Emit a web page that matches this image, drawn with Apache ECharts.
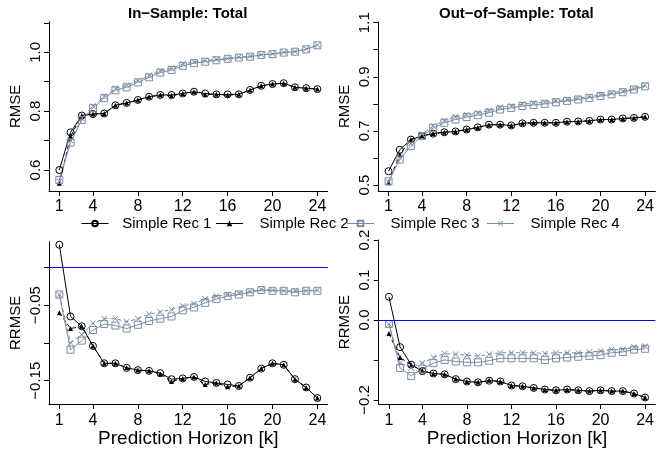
<!DOCTYPE html>
<html>
<head>
<meta charset="utf-8">
<script src="https://cdn.jsdelivr.net/npm/echarts@6/dist/echarts.min.js"></script>
<style>
  html, body { margin: 0; padding: 0; background: #ffffff; }
  #chart { width: 657px; height: 449px; }
</style>
</head>
<body>
<div id="chart"></div>
<script>
// Prediction horizons k = 1..24
const horizons = [1, 2, 3, 4, 5, 6, 7, 8, 9, 10, 11, 12, 13, 14, 15, 16, 17, 18, 19, 20, 21, 22, 23, 24];
const seriesNames = ['Simple Rec 1', 'Simple Rec 2', 'Simple Rec 3', 'Simple Rec 4'];
const panelTitles = ['In\u2212Sample: Total', 'Out\u2212of\u2212Sample: Total'];
const xTickValues = [1, 4, 8, 12, 16, 20, 24];

// In-sample RMSE
const inRmseRec1 = [0.600, 0.728, 0.785, 0.790, 0.792, 0.820, 0.828, 0.838, 0.849, 0.855, 0.855, 0.860, 0.866, 0.860, 0.857, 0.857, 0.857, 0.872, 0.886, 0.892, 0.895, 0.881, 0.878, 0.875];
const inRmseRec2 = [0.555, 0.715, 0.785, 0.790, 0.792, 0.820, 0.828, 0.838, 0.849, 0.855, 0.852, 0.860, 0.866, 0.856, 0.857, 0.854, 0.857, 0.872, 0.886, 0.892, 0.895, 0.881, 0.878, 0.875];
const inRmseRec3 = [0.566, 0.693, 0.770, 0.810, 0.844, 0.871, 0.881, 0.898, 0.915, 0.931, 0.940, 0.954, 0.963, 0.968, 0.973, 0.978, 0.982, 0.985, 0.991, 0.994, 0.999, 1.002, 1.010, 1.024];
const inRmseRec4 = [0.562, 0.700, 0.776, 0.817, 0.851, 0.877, 0.888, 0.904, 0.921, 0.937, 0.946, 0.960, 0.968, 0.972, 0.976, 0.980, 0.984, 0.987, 0.992, 0.995, 1.000, 1.003, 1.011, 1.025];

// Out-of-sample RMSE
const outRmseRec1 = [0.551, 0.630, 0.668, 0.681, 0.690, 0.695, 0.698, 0.705, 0.713, 0.723, 0.723, 0.720, 0.728, 0.730, 0.730, 0.730, 0.734, 0.735, 0.737, 0.742, 0.742, 0.746, 0.748, 0.752];
const outRmseRec2 = [0.508, 0.612, 0.668, 0.682, 0.690, 0.695, 0.698, 0.705, 0.713, 0.722, 0.723, 0.720, 0.728, 0.730, 0.730, 0.730, 0.734, 0.735, 0.737, 0.742, 0.742, 0.746, 0.748, 0.752];
const outRmseRec3 = [0.514, 0.594, 0.644, 0.681, 0.711, 0.730, 0.742, 0.751, 0.758, 0.767, 0.779, 0.785, 0.792, 0.796, 0.800, 0.806, 0.811, 0.816, 0.822, 0.829, 0.835, 0.843, 0.853, 0.865];
const outRmseRec4 = [0.511, 0.600, 0.654, 0.688, 0.718, 0.738, 0.751, 0.760, 0.766, 0.775, 0.787, 0.792, 0.799, 0.803, 0.806, 0.811, 0.816, 0.821, 0.827, 0.834, 0.840, 0.847, 0.857, 0.868];

// In-sample relative RMSE
const inRrmseRec1 = [0.030, -0.065, -0.078, -0.104, -0.127, -0.127, -0.133, -0.136, -0.137, -0.140, -0.148, -0.147, -0.145, -0.151, -0.153, -0.155, -0.157, -0.146, -0.134, -0.127, -0.129, -0.148, -0.159, -0.173];
const inRrmseRec2 = [-0.060, -0.081, -0.078, -0.104, -0.127, -0.127, -0.133, -0.136, -0.137, -0.141, -0.151, -0.147, -0.145, -0.155, -0.153, -0.158, -0.157, -0.146, -0.134, -0.127, -0.129, -0.148, -0.159, -0.173];
const inRrmseRec3 = [-0.036, -0.109, -0.097, -0.083, -0.075, -0.077, -0.081, -0.076, -0.071, -0.068, -0.065, -0.057, -0.053, -0.047, -0.042, -0.038, -0.036, -0.033, -0.030, -0.031, -0.031, -0.033, -0.031, -0.031];
const inRrmseRec4 = [-0.036, -0.100, -0.089, -0.074, -0.068, -0.068, -0.072, -0.068, -0.062, -0.059, -0.056, -0.051, -0.048, -0.042, -0.038, -0.036, -0.034, -0.032, -0.029, -0.030, -0.031, -0.031, -0.031, -0.030];

// Out-of-sample relative RMSE
const outRrmseRec1 = [0.058, -0.068, -0.112, -0.128, -0.134, -0.136, -0.148, -0.154, -0.156, -0.152, -0.154, -0.164, -0.166, -0.170, -0.174, -0.176, -0.174, -0.176, -0.178, -0.176, -0.178, -0.178, -0.184, -0.194];
const outRrmseRec2 = [-0.034, -0.094, -0.112, -0.127, -0.134, -0.136, -0.148, -0.154, -0.156, -0.151, -0.154, -0.164, -0.166, -0.170, -0.174, -0.176, -0.174, -0.176, -0.178, -0.176, -0.178, -0.178, -0.184, -0.194];
const outRrmseRec3 = [-0.010, -0.120, -0.140, -0.122, -0.108, -0.100, -0.104, -0.106, -0.106, -0.102, -0.096, -0.096, -0.096, -0.096, -0.100, -0.096, -0.094, -0.092, -0.090, -0.088, -0.082, -0.080, -0.074, -0.072];
const outRrmseRec4 = [-0.010, -0.108, -0.120, -0.108, -0.094, -0.084, -0.086, -0.088, -0.090, -0.086, -0.082, -0.082, -0.082, -0.082, -0.084, -0.082, -0.082, -0.082, -0.080, -0.078, -0.074, -0.074, -0.068, -0.066];

// Y-axis ticks and the ticks that carry a label, per panel
const yTicksInRmse = [0.6, 0.7, 0.8, 0.9, 1.0, 1.1];
const yLabelsInRmse = [0.6, 0.8, 1.0];
const yTicksOutRmse = [0.5, 0.6, 0.7, 0.8, 0.9, 1.0, 1.1];
const yLabelsOutRmse = [0.5, 0.7, 0.9, 1.1];
const yTicksInRrmse = [-0.15, -0.10, -0.05, 0.00];
const yLabelsInRrmse = [-0.15, -0.05];
const yTicksOutRrmse = [-0.2, -0.1, 0.0, 0.1, 0.2];
const yLabelsOutRrmse = [-0.2, 0.0, 0.1, 0.2];

const FONT = "'Liberation Sans', Arial, Helvetica, sans-serif";
const BLACK = '#000000';
const SLATE = '#7c8ca4';
const ZERO_BLUE = '#0000ff';
const CROSS = 'path://M0,0.9L0.9,0L5,4.1L9.1,0L10,0.9L5.9,5L10,9.1L9.1,10L5,5.9L0.9,10L0,9.1L4.1,5Z';

// Plot regions: [left, top, width, height]
const panels = [
  { box: [49, 21.7, 278.7, 169.3], yMin: 0.5286, yMax: 1.104, ticks: yTicksInRmse, labels: yLabelsInRmse, dec: 1, yName: 'RMSE', xName: '',
    data: [inRmseRec1, inRmseRec2, inRmseRec3, inRmseRec4] },
  { box: [378.3, 21.7, 278.7, 169.3], yMin: 0.4778, yMax: 1.1037, ticks: yTicksOutRmse, labels: yLabelsOutRmse, dec: 1, yName: 'RMSE', xName: '',
    data: [outRmseRec1, outRmseRec2, outRmseRec3, outRmseRec4] },
  { box: [49, 241.7, 278.7, 169.3], yMin: -0.181, yMax: 0.034, ticks: yTicksInRrmse, labels: yLabelsInRrmse, dec: 2, yName: 'RRMSE', xName: 'Prediction Horizon [k]', zeroLine: true,
    data: [inRrmseRec1, inRrmseRec2, inRrmseRec3, inRrmseRec4] },
  { box: [378.7, 240, 278.3, 171], yMin: -0.2105, yMax: 0.2, ticks: yTicksOutRrmse, labels: yLabelsOutRrmse, dec: 1, yName: 'RRMSE', xName: 'Prediction Horizon [k]', zeroLine: true,
    data: [outRrmseRec1, outRrmseRec2, outRrmseRec3, outRrmseRec4] }
];

const seriesStyles = [
  { symbol: 'circle', symbolSize: 7, itemStyle: { color: 'rgba(255,255,255,0)', borderColor: BLACK, borderWidth: 1 }, lineStyle: { color: BLACK, width: 1, type: 'solid' } },
  { symbol: 'triangle', symbolSize: 5, itemStyle: { color: BLACK, borderWidth: 0 }, lineStyle: { color: BLACK, width: 1, type: [4, 3] } },
  { symbol: 'rect', symbolSize: 7, itemStyle: { color: 'rgba(255,255,255,0)', borderColor: SLATE, borderWidth: 1 }, lineStyle: { color: SLATE, width: 1, type: 'solid' } },
  { symbol: CROSS, symbolSize: 6, itemStyle: { color: SLATE, borderWidth: 0 }, lineStyle: { color: SLATE, width: 1, type: [4, 3] } }
];

function fmt(v, dec) {
  const s = Math.abs(v).toFixed(dec);
  return v < -1e-9 ? '\u2212' + s : s;
}

const grids = [], xAxes = [], yAxes = [], series = [];
panels.forEach((p, i) => {
  grids.push({ left: p.box[0], top: p.box[1], width: p.box[2], height: p.box[3], containLabel: false });
  xAxes.push({
    gridIndex: i, type: 'value', min: 0.08, max: 24.92,
    axisLine: { show: true, onZero: false, lineStyle: { color: BLACK, width: 1 } },
    axisTick: { show: true, length: 5, lineStyle: { color: BLACK, width: 1 }, customValues: xTickValues },
    axisLabel: { customValues: xTickValues, fontSize: 16, color: BLACK, fontFamily: FONT, margin: 8 },
    splitLine: { show: false },
    name: p.xName, nameLocation: 'middle', nameGap: 22,
    nameTextStyle: { fontSize: 19, color: BLACK, fontFamily: FONT }
  });
  yAxes.push({
    gridIndex: i, type: 'value', min: p.yMin, max: p.yMax,
    axisLine: { show: true, onZero: false, lineStyle: { color: BLACK, width: 1 } },
    axisTick: { show: true, length: 5, lineStyle: { color: BLACK, width: 1 }, customValues: p.ticks },
    axisLabel: { customValues: p.labels, rotate: 90, fontSize: 15, color: BLACK, fontFamily: FONT, margin: 6,
      formatter: (v) => fmt(v, p.dec) },
    splitLine: { show: false },
    name: p.yName, nameLocation: 'middle', nameGap: 26,
    nameTextStyle: { fontSize: 15, color: BLACK, fontFamily: FONT }
  });
  p.data.forEach((vals, s) => {
    const st = seriesStyles[s];
    series.push({
      name: seriesNames[s], type: 'line', xAxisIndex: i, yAxisIndex: i,
      data: horizons.map((k, j) => [k, vals[j]]),
      symbol: st.symbol, symbolSize: st.symbolSize, showSymbol: true, showAllSymbol: true,
      itemStyle: st.itemStyle, lineStyle: st.lineStyle,
      emphasis: { disabled: true }, animation: false, z: 2
    });
  });
  if (p.zeroLine) {
    // horizontal reference line at RRMSE = 0, carried by a data-less series
    series.push({
      name: 'zero', type: 'line', xAxisIndex: i, yAxisIndex: i, data: [],
      color: ZERO_BLUE, lineStyle: { color: ZERO_BLUE }, itemStyle: { color: ZERO_BLUE },
      z: 5, animation: false, silent: true,
      markLine: {
        silent: true, symbol: 'none', label: { show: false },
        lineStyle: { color: ZERO_BLUE, width: 1, type: 'solid', opacity: 1 },
        emphasis: { disabled: true }, animation: false,
        data: [{ yAxis: 0, lineStyle: { color: ZERO_BLUE } }]
      }
    });
  }
});

// One legend entry per component so each sits where its label belongs
const legendCenters = [94.5, 229, 360, 500];
const legendTextStarts = [121.7, 259, 390, 530];
const legends = seriesNames.map((name, s) => ({
  data: [name], left: legendCenters[s] - 13.5, top: 215.5, orient: 'horizontal',
  itemWidth: 27, itemHeight: 7, padding: 0, selectedMode: false,
  lineStyle: { type: 'solid', width: 1 },
  textStyle: { fontSize: 15, color: BLACK, fontFamily: FONT, lineHeight: 16,
    padding: [0, 0, 0, legendTextStarts[s] - legendCenters[s] - 18.5] }
}));

const option = {
  backgroundColor: '#ffffff',
  animation: false,
  title: [
    { text: panelTitles[0], left: 128, top: 6.5, padding: 0, textStyle: { fontSize: 15, fontWeight: 'bold', color: BLACK, fontFamily: FONT } },
    { text: panelTitles[1], left: 439, top: 6.5, padding: 0, textStyle: { fontSize: 15, fontWeight: 'bold', color: BLACK, fontFamily: FONT } }
  ],
  legend: legends,
  grid: grids,
  xAxis: xAxes,
  yAxis: yAxes,
  series: series
};

const chart = echarts.init(document.getElementById('chart'), null, { renderer: 'canvas' });
chart.setOption(option);
</script>
</body>
</html>
